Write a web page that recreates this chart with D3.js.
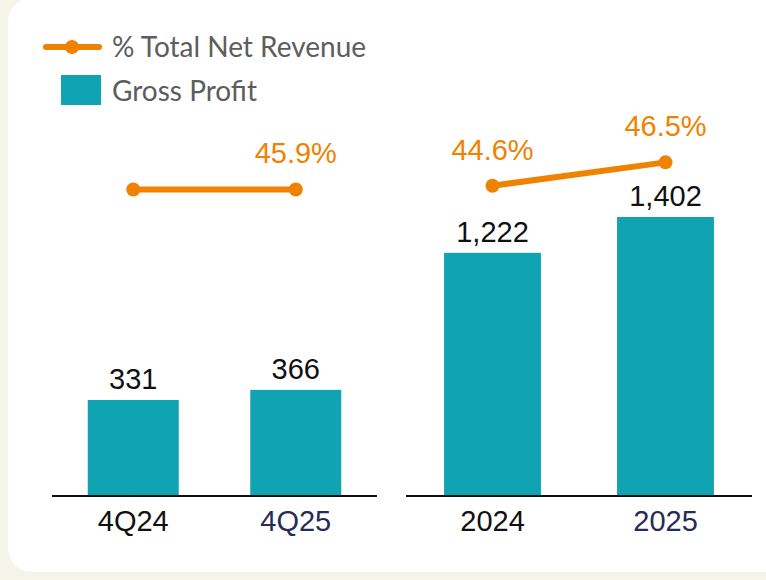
<!DOCTYPE html>
<html>
<head>
<meta charset="utf-8">
<script src="https://cdn.jsdelivr.net/npm/d3@7"></script>
<style>
  body { margin: 0; background: #f4f4e9; }
  svg { display: block; }
</style>
</head>
<body>
<div id="chart"></div>
<script>
// Quarterly panel
var quarters = ["4Q24", "4Q25"];
var quarterProfit = [331, 366];
var quarterPct = [45.9, 45.9];
var quarterPctLabels = ["", "45.9%"];

// Annual panel
var years = ["2024", "2025"];
var yearProfit = [1222, 1402];
var yearPct = [44.6, 46.5];
var yearPctLabels = ["44.6%", "46.5%"];

var catColors = ["#111111", "#262b57"];

var width = 766,
    height = 580;

var teal = "#10a3b2",
    orange = "#ef8200";

var svg = d3.select("#chart").append("svg")
    .attr("width", width)
    .attr("height", height);

// background card
svg.append("rect")
    .attr("x", 8)
    .attr("y", -2)
    .attr("width", 790)
    .attr("height", 574)
    .attr("rx", 24)
    .attr("fill", "#ffffff");

var numFont = "'Liberation Sans', Arial, sans-serif";

function drawPanel(cats, profit, pct, pctLabels, xRange, yBar, yPct) {
  var g = svg.append("g");

  var x = d3.scaleBand()
      .domain(cats)
      .range(xRange)
      .paddingInner(0.44)
      .paddingOuter(0.22);

  var base = yBar.range()[0];

  g.selectAll("rect.bar")
    .data(cats)
    .enter()
    .append("rect")
    .attr("class", "bar")
    .attr("x", function(d){ return x(d); })
    .attr("width", x.bandwidth())
    .attr("y", function(d,i){ return yBar(profit[i]); })
    .attr("height", function(d,i){ return base - yBar(profit[i]); })
    .attr("fill", teal);

  // value labels
  g.selectAll("text.val")
    .data(cats)
    .enter()
    .append("text")
    .attr("class", "val")
    .attr("x", function(d){ return x(d) + x.bandwidth()/2; })
    .attr("y", function(d,i){ return yBar(profit[i]) - 11; })
    .attr("text-anchor", "middle")
    .style("font-family", numFont)
    .style("font-size", "29px")
    .style("fill", "#111")
    .text(function(d,i){ return d3.format(",")(profit[i]); });

  // axis baseline
  var axis = d3.axisBottom(x).tickSize(0).tickPadding(14);
  var ax = g.append("g")
      .attr("transform", "translate(0," + base + ")")
      .call(axis);
  ax.select(".domain")
      .attr("d", "M" + xRange[0] + ",0H" + xRange[1])
      .attr("stroke", "#111")
      .attr("stroke-width", 2);
  ax.selectAll(".tick text")
      .style("font-family", numFont)
      .style("font-size", "29px")
      .attr("dy", "0.71em")
      .style("fill", function(d,i){ return catColors[i]; });

  // percent line
  var line = d3.line()
      .x(function(d,i){ return x(cats[i]) + x.bandwidth()/2; })
      .y(function(d){ return yPct(d); });

  g.append("path")
    .datum(pct)
    .attr("d", line)
    .attr("fill", "none")
    .attr("stroke", orange)
    .attr("stroke-width", 6);

  g.selectAll("circle.dot")
    .data(pct)
    .enter()
    .append("circle")
    .attr("class", "dot")
    .attr("cx", function(d,i){ return x(cats[i]) + x.bandwidth()/2; })
    .attr("cy", function(d){ return yPct(d); })
    .attr("r", 7)
    .attr("fill", orange);

  g.selectAll("text.pct")
    .data(pct)
    .enter()
    .append("text")
    .attr("class", "pct")
    .attr("x", function(d,i){ return x(cats[i]) + x.bandwidth()/2; })
    .attr("y", function(d){ return yPct(d) - 26; })
    .attr("text-anchor", "middle")
    .style("font-family", numFont)
    .style("font-size", "29px")
    .style("fill", orange)
    .text(function(d,i){ return pctLabels[i]; });
}

var yBarQ = d3.scaleLinear().domain([0, 1000]).range([496, 206]);
var yPctQ = d3.scaleLinear().domain([40, 50]).range([262, 139]);
drawPanel(quarters, quarterProfit, quarterPct, quarterPctLabels, [52, 377], yBarQ, yPctQ);

var yBarY = d3.scaleLinear().domain([0, 1500]).range([496, 197.5]);
var yPctY = d3.scaleLinear().domain([40, 50]).range([242.3, 119.3]);
drawPanel(years, yearProfit, yearPct, yearPctLabels, [406, 752], yBarY, yPctY);

// legend
var legend = svg.append("g").attr("class", "legend");
legend.append("line")
    .attr("x1", 46).attr("x2", 99)
    .attr("y1", 47).attr("y2", 47)
    .attr("stroke", orange)
    .attr("stroke-width", 6)
    .attr("stroke-linecap", "round");
legend.append("circle")
    .attr("cx", 72).attr("cy", 47).attr("r", 7)
    .attr("fill", orange);
legend.append("text")
    .attr("x", 112).attr("y", 57)
    .style("font-family", "Lato, sans-serif")
    .style("font-size", "28px")
    .style("fill", "#5d5d5d")
    .text("% Total Net Revenue");
legend.append("rect")
    .attr("x", 61).attr("y", 75)
    .attr("width", 40).attr("height", 30)
    .attr("fill", teal);
legend.append("text")
    .attr("x", 112).attr("y", 101)
    .style("font-family", "Lato, sans-serif")
    .style("font-size", "28px")
    .style("fill", "#5d5d5d")
    .text("Gross Profit");
</script>
</body>
</html>
